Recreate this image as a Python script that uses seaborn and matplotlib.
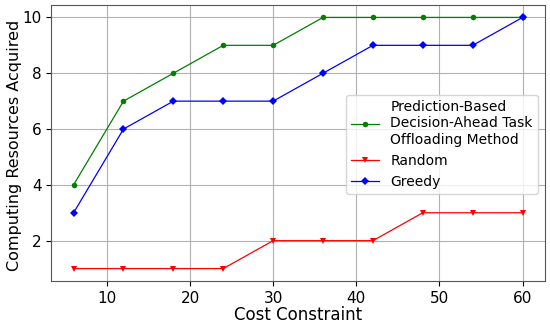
import pandas as pd
import matplotlib
matplotlib.use('Agg')
import matplotlib.pyplot as plt
import seaborn as sns

cost = [6, 12, 18, 24, 30, 36, 42, 48, 54, 60]
proposed = [4, 7, 8, 9, 9, 10, 10, 10, 10, 10]
random_vals = [1, 1, 1, 1, 2, 2, 2, 3, 3, 3]
greedy = [3, 6, 7, 7, 7, 8, 9, 9, 9, 10]

names = ['Prediction-Based\nDecision-Ahead Task\nOffloading Method', 'Random', 'Greedy']
colors = ['green', 'red', 'blue']
marks = ['o', 'v', 'D']

df = pd.DataFrame({
    'Cost': cost * 3,
    'Value': proposed + random_vals + greedy,
    'Method': [names[0]] * 10 + [names[1]] * 10 + [names[2]] * 10,
})

fig = plt.figure(figsize=(5.5, 3.25), dpi=100)
ax = fig.add_axes([0.093, 0.135, 0.898, 0.85])
sns.lineplot(data=df, x='Cost', y='Value', hue='Method', style='Method',
             palette=dict(zip(names, colors)), markers=dict(zip(names, marks)),
             dashes=False, linewidth=0.9, markersize=4, markeredgewidth=0, ax=ax)
ax.set_xlabel('Cost Constraint', fontsize=12)
ax.set_ylabel('Computing Resources Acquired', fontsize=11.5)
ax.yaxis.set_label_coords(-0.06, 0.49)
ax.xaxis.set_label_coords(0.5, -0.09)
ax.tick_params(labelsize=11)
ax.set_yticks([2, 4, 6, 8, 10])
ax.grid(True)
for s in ax.spines.values():
    s.set_color('#555555')
ax.legend(title=None, fontsize=10, loc='upper right', bbox_to_anchor=(1.0, 0.70))
plt.savefig('out.png')
